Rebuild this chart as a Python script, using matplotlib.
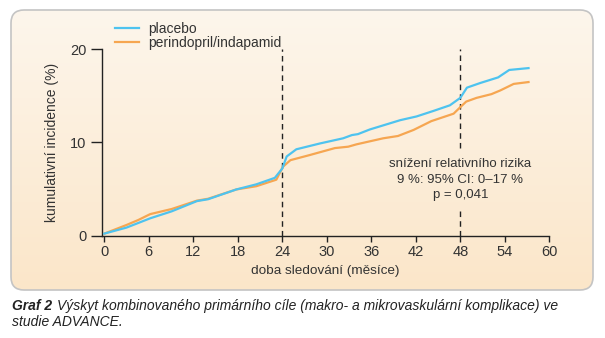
import numpy as np
import matplotlib
matplotlib.use("Agg")
import matplotlib.pyplot as plt
from matplotlib.patches import FancyBboxPatch
from matplotlib.colors import LinearSegmentedColormap

plt.rcParams['font.family'] = ['Liberation Sans', 'DejaVu Sans']

# Cumulative incidence (%) by follow-up month
placebo_months = [0, 3.0, 6.2, 9.1, 12.5, 14.0, 17.8, 20.5, 23.0, 24.0, 24.6, 25.9,
                  29.1, 32.2, 33.4, 34.2, 35.8, 39.9, 42.1, 44.4, 46.6, 48.0, 48.9,
                  50.7, 53.1, 54.6, 57.2]
placebo_vals = [0.2, 0.85, 1.85, 2.6, 3.7, 3.9, 4.95, 5.5, 6.2, 7.2, 8.5, 9.27,
                9.9, 10.45, 10.8, 10.9, 11.4, 12.4, 12.8, 13.4, 14.0, 14.8, 15.9,
                16.4, 17.0, 17.8, 18.0]

perind_months = [0, 3.0, 4.6, 6.2, 9.1, 12.5, 14.0, 17.8, 20.5, 23.2, 24.1, 25.1,
                 27.7, 31.1, 32.9, 34.0, 37.6, 39.6, 41.7, 44.1, 47.1, 48.0, 48.8,
                 50.2, 52.2, 53.4, 55.2, 57.2]
perind_vals = [0.2, 1.13, 1.67, 2.3, 2.85, 3.75, 3.95, 4.95, 5.3, 6.0, 7.4, 8.1,
               8.65, 9.4, 9.55, 9.8, 10.45, 10.7, 11.35, 12.3, 13.1, 13.8, 14.4,
               14.8, 15.2, 15.6, 16.3, 16.5]

x_ticks = [0, 6, 12, 18, 24, 30, 36, 42, 48, 54, 60]
y_ticks = [0, 10, 20]

BLUE = '#4ec3ef'
ORANGE = '#f6a651'
TXT = '#333333'
W, H = 605, 338

fig = plt.figure(figsize=(W / 100, H / 100), dpi=100)
fig.patch.set_facecolor('white')

# Rounded panel with a soft vertical gradient
bg = fig.add_axes([0, 0, 1, 1], zorder=-2)
bg.set_xlim(0, W)
bg.set_ylim(0, H)
bg.axis('off')
px0, px1, py_top, py_bot = 11, 593, 10, 290
panel = FancyBboxPatch((px0, H - py_bot), px1 - px0, py_bot - py_top,
                       boxstyle="round,pad=0,rounding_size=13",
                       facecolor='none', edgecolor='#c4c4c4', linewidth=1.2,
                       zorder=3)
bg.add_patch(panel)
cmap = LinearSegmentedColormap.from_list('panel', ['#fbe6c9', '#fdf6ec'])
grad = np.linspace(0, 1, 256).reshape(-1, 1)
im = bg.imshow(grad, cmap=cmap, origin='lower', aspect='auto',
               extent=(px0, px1, H - py_bot, H - py_top), zorder=1)
im.set_clip_path(panel)

# Main chart
ax = fig.add_axes([102 / W, 1 - 235.5 / H, (549.3 - 102) / W, (235.5 - 49.5) / H])
ax.patch.set_alpha(0)
ax.plot(perind_months, perind_vals, color=ORANGE, lw=1.6, label='perindopril/indapamid', zorder=3)
ax.plot(placebo_months, placebo_vals, color=BLUE, lw=1.6, label='placebo', zorder=4)

dash = dict(color='#222222', lw=1.0, ls=(0, (4, 3)), zorder=2)
ax.plot([24, 24], [0, 20], **dash)
ax.plot([48, 48], [9.4, 20], **dash)
ax.plot([48, 48], [0, 2.6], **dash)

ax.set_xlim(-0.3, 60)
ax.set_ylim(0, 20)
ax.set_xticks(x_ticks)
ax.set_yticks(y_ticks)
for s in ['top', 'right']:
    ax.spines[s].set_visible(False)
for s in ['left', 'bottom']:
    ax.spines[s].set_color('#222222')
    ax.spines[s].set_linewidth(1.0)
ax.tick_params(axis='x', direction='out', length=4, width=1.0, colors='#222222',
               labelsize=10.5, labelcolor=TXT, pad=3)
ax.tick_params(axis='y', direction='out', length=8, width=1.0, colors='#222222',
               labelsize=10.5, labelcolor=TXT, pad=3)
ax.set_xlabel('doba sledování (měsíce)', fontsize=9.7, color=TXT, labelpad=4)
ax.set_ylabel('kumulativní incidence (%)', fontsize=10, color=TXT, labelpad=8)

ax.text(48, 6.0, 'snížení relativního rizika\n9 %: 95% CI: 0–17 %\np = 0,041',
        ha='center', va='center', fontsize=9.5, color=TXT, linespacing=1.4)

handles, labels = ax.get_legend_handles_labels()
leg = ax.legend(handles[::-1], labels[::-1], loc='lower left',
                bbox_to_anchor=(115 / W, 1 - 50 / H), bbox_transform=fig.transFigure,
                frameon=False, fontsize=10, handlelength=1.75, handletextpad=0.65,
                labelspacing=0.0, borderaxespad=0, borderpad=0)
for t in leg.get_texts():
    t.set_color(TXT)

# Caption
fig.text(12 / W, 1 - 306 / H, 'Graf 2', fontsize=10, fontweight='bold', style='italic',
         color='#222222', va='center', ha='left')
fig.text(57 / W, 1 - 306 / H,
         'Výskyt kombinovaného primárního cíle (makro- a mikrovaskulární komplikace) ve',
         fontsize=10, style='italic', color='#222222', va='center', ha='left')
fig.text(12 / W, 1 - 322 / H, 'studie ADVANCE.', fontsize=10, style='italic',
         color='#222222', va='center', ha='left')

fig.savefig('out.png', dpi=100)
